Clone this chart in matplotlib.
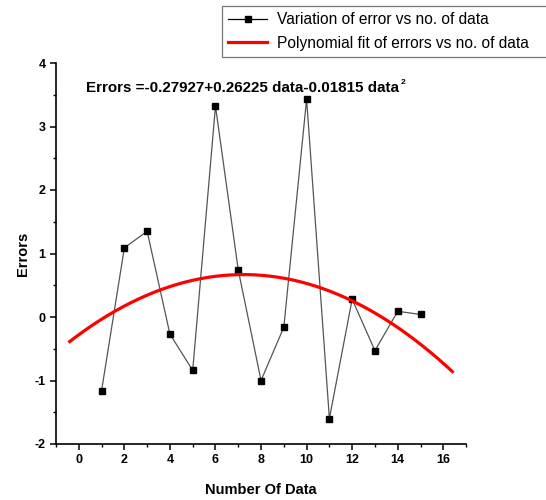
import numpy as np
from matplotlib import pyplot as plt
from matplotlib.ticker import MultipleLocator

# data
n_data = [1, 2, 3, 4, 5, 6, 7, 8, 9, 10, 11, 12, 13, 14, 15]
errors = [-1.16, 1.09, 1.35, -0.27, -0.84, 3.32, 0.74, -1.00, -0.16, 3.43,
          -1.60, 0.28, -0.53, 0.09, 0.04]

# polynomial fit as printed on the chart (constant, linear, quadratic)
fit_coeffs = [-0.27927, 0.26225, -0.01815]
fit_range = [-0.4, 16.4]

plt.rcParams['font.family'] = ['Liberation Sans', 'DejaVu Sans']
plt.rcParams['axes.unicode_minus'] = False

fig = plt.figure(figsize=(5.46, 5.0), dpi=100)
ax = fig.add_axes([0.1026, 0.112, 0.751, 0.762])

line1, = ax.plot(n_data, errors, color='#555555', lw=0.9,
                 marker='s', markersize=5, markerfacecolor='black',
                 markeredgecolor='black',
                 label='Variation of error vs no. of data')

xf = np.linspace(fit_range[0], fit_range[1], 200)
yf = np.polyval(fit_coeffs[::-1], xf)
line2, = ax.plot(xf, yf, color='red', lw=2.3,
                 label='Polynomial fit of errors vs no. of data')

ax.set_xlim(-1, 17)
ax.set_ylim(-2, 4)
ax.xaxis.set_major_locator(MultipleLocator(2))
ax.xaxis.set_minor_locator(MultipleLocator(1))
ax.yaxis.set_major_locator(MultipleLocator(1))
ax.yaxis.set_minor_locator(MultipleLocator(0.5))

for side in ['top', 'right']:
    ax.spines[side].set_visible(False)
for side in ['left', 'bottom']:
    ax.spines[side].set_linewidth(1.2)

ax.tick_params(which='major', direction='out', length=4, width=1.1,
               labelsize=9)
ax.tick_params(which='minor', direction='out', length=2.5, width=1.0)
for lab in ax.get_xticklabels() + ax.get_yticklabels():
    lab.set_fontweight('bold')

ax.set_xlabel('Number Of Data', fontsize=10.5, fontweight='bold', labelpad=12)
ax.set_ylabel('Errors', fontsize=10.5, fontweight='bold', labelpad=3)

eq = ax.text(0.073, 0.935, 'Errors =-0.27927+0.26225 data-0.01815 data',
             transform=ax.transAxes, fontsize=10.9, fontweight='bold',
             va='center', ha='left')
ax.annotate('2', xy=(1.0, 1.0), xycoords=eq, xytext=(1.5, -1.5),
            textcoords='offset points', fontsize=6, fontweight='bold',
            va='center', ha='left')

# legend box runs off the right edge of the figure, like the original
leg = fig.legend(handles=[line1, line2], loc='upper left',
                 bbox_to_anchor=(222 / 546, 1 - 6 / 500, 0.64, 0),
                 mode='expand', borderaxespad=0,
                 fontsize=11.2, frameon=True, fancybox=False,
                 edgecolor='#555555', handlelength=2.5, borderpad=0.4,
                 labelspacing=0.55, handletextpad=0.65)
leg.get_frame().set_linewidth(0.9)
leg.legend_handles[0].set_color('black')

fig.savefig('out.png', dpi=100)
